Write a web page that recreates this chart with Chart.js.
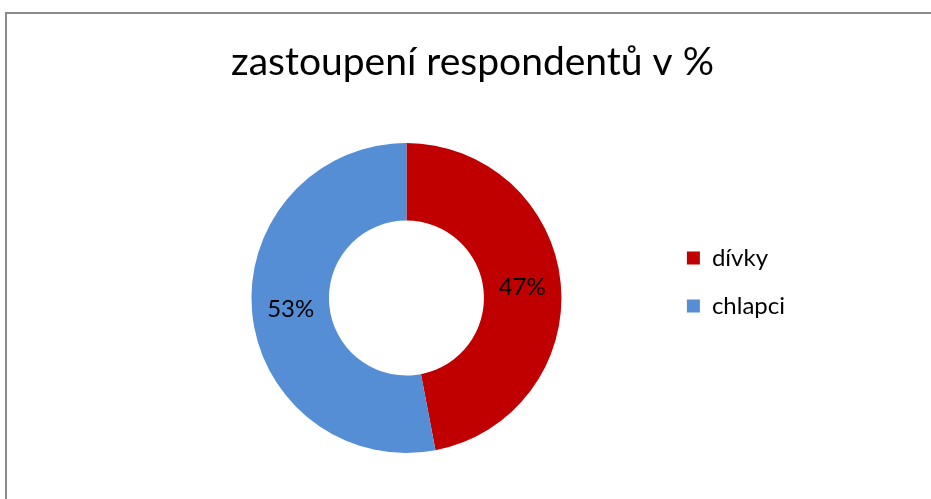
<!DOCTYPE html>
<html>
<head>
    <title>zastoupení respondentů</title>
    <script src="https://cdn.jsdelivr.net/npm/chart.js"></script>
    <style>
        html, body { margin: 0; padding: 0; background: #fff; overflow: hidden; }
        #frame {
            position: absolute; left: 5px; top: 12px;
            width: 1000px; height: 600px;
            border: 2px solid #8a8a8a;
        }
        #chart-container { position: absolute; left: 0; top: 0; width: 931px; height: 499px; }
    </style>
</head>
<body>
    <div id="frame"></div>
    <div id="chart-container">
        <canvas id="donut-chart"></canvas>
    </div>

    <script>
        'use strict';

        const titleText = 'zastoupení respondentů v %';
        const categories = ['dívky', 'chlapci'];
        const shares = [47, 53];
        const sliceColors = ['#C00000', '#558ED5'];

        const fontFamily = "Lato, 'Open Sans', sans-serif";

        // draws the percentage inside each slice
        const sliceLabels = {
            id: 'sliceLabels',
            afterDatasetsDraw(chart) {
                const ctx = chart.ctx;
                const meta = chart.getDatasetMeta(0);
                ctx.save();
                ctx.font = '24px ' + fontFamily;
                ctx.fillStyle = '#000';
                ctx.textAlign = 'center';
                ctx.textBaseline = 'middle';
                meta.data.forEach(function (arc, i) {
                    const pos = arc.tooltipPosition();
                    ctx.fillText(shares[i] + '%', pos.x, pos.y);
                });
                ctx.restore();
            }
        };

        const ctx = document.getElementById('donut-chart').getContext('2d');

        new Chart(ctx, {
            type: 'doughnut',
            data: {
                labels: categories,
                datasets: [{
                    data: shares,
                    backgroundColor: sliceColors,
                    borderWidth: 0
                }]
            },
            options: {
                responsive: true,
                maintainAspectRatio: false,
                animation: false,
                cutout: '50%',
                layout: {
                    padding: { left: 150, right: 136, top: 0, bottom: 46 }
                },
                plugins: {
                    title: {
                        display: true,
                        text: titleText,
                        color: '#000',
                        font: { family: fontFamily, size: 39, weight: 'normal', lineHeight: 1.2 },
                        padding: { top: 38.6, bottom: 57.6 }
                    },
                    legend: {
                        display: true,
                        position: 'right',
                        align: 'start',
                        fullSize: false,
                        title: {
                            display: true,
                            text: '',
                            font: { size: 10, lineHeight: 1 },
                            padding: { top: 69, bottom: 0 }
                        },
                        labels: {
                            boxWidth: 13,
                            boxHeight: 13,
                            padding: 24,
                            color: '#000',
                            font: { family: fontFamily, size: 24 }
                        }
                    },
                    tooltip: { enabled: false }
                }
            },
            plugins: [sliceLabels]
        });
    </script>
</body>
</html>
